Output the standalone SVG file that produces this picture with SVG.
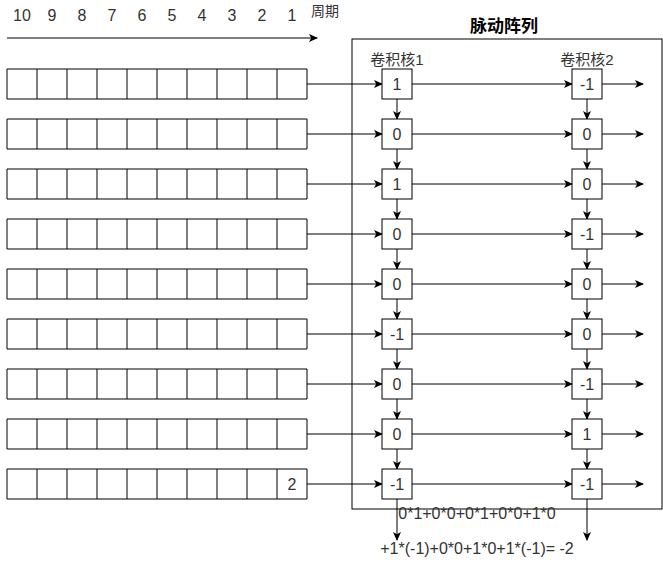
<svg xmlns="http://www.w3.org/2000/svg" width="663" height="581" viewBox="0 0 663 581">
<defs>
<marker id="ah" markerWidth="10" markerHeight="8" refX="8" refY="4" orient="auto" markerUnits="userSpaceOnUse">
<path d="M0,0 L9,4 L0,8 L2.2,4 Z" fill="#000"/>
</marker>
<style>
.cell{fill:#fff;stroke:#000;stroke-width:1}
.t{font-family:"Liberation Sans","Noto Sans CJK SC",sans-serif;fill:#333;text-anchor:middle}
.n{font-size:16px}
.tl{font-size:16px}
.e{stroke:#000;stroke-width:1;fill:none;marker-end:url(#ah)}
.ln{stroke:#000;stroke-width:1;fill:none}
</style>
</defs>
<rect width="663" height="581" fill="#fff"/>

<g id="timeline">
<text class="t tl" x="22" y="21">10</text>
<text class="t tl" x="52" y="21">9</text>
<text class="t tl" x="82" y="21">8</text>
<text class="t tl" x="112" y="21">7</text>
<text class="t tl" x="142" y="21">6</text>
<text class="t tl" x="172" y="21">5</text>
<text class="t tl" x="202" y="21">4</text>
<text class="t tl" x="232" y="21">3</text>
<text class="t tl" x="262" y="21">2</text>
<text class="t tl" x="292" y="21">1</text>
<text class="t" x="311" y="16" style="font-size:14px;text-anchor:start">周期</text>
<line class="e" x1="7" y1="38" x2="317" y2="38"/>
</g>

<g id="systolic-array">
<rect x="352" y="39" width="310" height="470" fill="#fff" stroke="#000"/>
<text class="t" x="504" y="32" style="font-size:17px;font-weight:bold;fill:#000">脉动阵列</text>
</g>

<g id="labels">
<text class="t" x="397" y="65" style="font-size:15px">卷积核1</text>
<text class="t" x="587" y="65" style="font-size:15px">卷积核2</text>
</g>

<g id="input-rows">
<g id="row1"><path class="cell" d="M7,69h300v30h-300z M37,69v30 M67,69v30 M97,69v30 M127,69v30 M157,69v30 M187,69v30 M217,69v30 M247,69v30 M277,69v30"/></g>
<g id="row2"><path class="cell" d="M7,119h300v30h-300z M37,119v30 M67,119v30 M97,119v30 M127,119v30 M157,119v30 M187,119v30 M217,119v30 M247,119v30 M277,119v30"/></g>
<g id="row3"><path class="cell" d="M7,169h300v30h-300z M37,169v30 M67,169v30 M97,169v30 M127,169v30 M157,169v30 M187,169v30 M217,169v30 M247,169v30 M277,169v30"/></g>
<g id="row4"><path class="cell" d="M7,219h300v30h-300z M37,219v30 M67,219v30 M97,219v30 M127,219v30 M157,219v30 M187,219v30 M217,219v30 M247,219v30 M277,219v30"/></g>
<g id="row5"><path class="cell" d="M7,269h300v30h-300z M37,269v30 M67,269v30 M97,269v30 M127,269v30 M157,269v30 M187,269v30 M217,269v30 M247,269v30 M277,269v30"/></g>
<g id="row6"><path class="cell" d="M7,319h300v30h-300z M37,319v30 M67,319v30 M97,319v30 M127,319v30 M157,319v30 M187,319v30 M217,319v30 M247,319v30 M277,319v30"/></g>
<g id="row7"><path class="cell" d="M7,369h300v30h-300z M37,369v30 M67,369v30 M97,369v30 M127,369v30 M157,369v30 M187,369v30 M217,369v30 M247,369v30 M277,369v30"/></g>
<g id="row8"><path class="cell" d="M7,419h300v30h-300z M37,419v30 M67,419v30 M97,419v30 M127,419v30 M157,419v30 M187,419v30 M217,419v30 M247,419v30 M277,419v30"/></g>
<g id="row9"><path class="cell" d="M7,469h300v30h-300z M37,469v30 M67,469v30 M97,469v30 M127,469v30 M157,469v30 M187,469v30 M217,469v30 M247,469v30 M277,469v30"/>
<text class="t n" x="292" y="490">2</text></g>
</g>

<g id="connectors">
<line class="e" x1="307" y1="84" x2="382" y2="84"/><line class="e" x1="412" y1="84" x2="572" y2="84"/><line class="e" x1="602" y1="84" x2="643" y2="84"/>
<line class="e" x1="307" y1="134" x2="382" y2="134"/><line class="e" x1="412" y1="134" x2="572" y2="134"/><line class="e" x1="602" y1="134" x2="643" y2="134"/>
<line class="e" x1="307" y1="184" x2="382" y2="184"/><line class="e" x1="412" y1="184" x2="572" y2="184"/><line class="e" x1="602" y1="184" x2="643" y2="184"/>
<line class="e" x1="307" y1="234" x2="382" y2="234"/><line class="e" x1="412" y1="234" x2="572" y2="234"/><line class="e" x1="602" y1="234" x2="643" y2="234"/>
<line class="e" x1="307" y1="284" x2="382" y2="284"/><line class="e" x1="412" y1="284" x2="572" y2="284"/><line class="e" x1="602" y1="284" x2="643" y2="284"/>
<line class="e" x1="307" y1="334" x2="382" y2="334"/><line class="e" x1="412" y1="334" x2="572" y2="334"/><line class="e" x1="602" y1="334" x2="643" y2="334"/>
<line class="e" x1="307" y1="384" x2="382" y2="384"/><line class="e" x1="412" y1="384" x2="572" y2="384"/><line class="e" x1="602" y1="384" x2="643" y2="384"/>
<line class="e" x1="307" y1="434" x2="382" y2="434"/><line class="e" x1="412" y1="434" x2="572" y2="434"/><line class="e" x1="602" y1="434" x2="643" y2="434"/>
<line class="e" x1="307" y1="484" x2="382" y2="484"/><line class="e" x1="412" y1="484" x2="572" y2="484"/><line class="e" x1="602" y1="484" x2="643" y2="484"/>
<line class="e" x1="397" y1="99" x2="397" y2="119"/><line class="e" x1="587" y1="99" x2="587" y2="119"/>
<line class="e" x1="397" y1="149" x2="397" y2="169"/><line class="e" x1="587" y1="149" x2="587" y2="169"/>
<line class="e" x1="397" y1="199" x2="397" y2="219"/><line class="e" x1="587" y1="199" x2="587" y2="219"/>
<line class="e" x1="397" y1="249" x2="397" y2="269"/><line class="e" x1="587" y1="249" x2="587" y2="269"/>
<line class="e" x1="397" y1="299" x2="397" y2="319"/><line class="e" x1="587" y1="299" x2="587" y2="319"/>
<line class="e" x1="397" y1="349" x2="397" y2="369"/><line class="e" x1="587" y1="349" x2="587" y2="369"/>
<line class="e" x1="397" y1="399" x2="397" y2="419"/><line class="e" x1="587" y1="399" x2="587" y2="419"/>
<line class="e" x1="397" y1="449" x2="397" y2="469"/><line class="e" x1="587" y1="449" x2="587" y2="469"/>
<line class="e" x1="397" y1="499" x2="397" y2="540"/><line class="e" x1="587" y1="499" x2="587" y2="540"/>
</g>

<g id="kernel1">
<g id="k1-1"><rect class="cell" x="382" y="69" width="30" height="30"/><text class="t n" x="397" y="90">1</text></g>
<g id="k1-2"><rect class="cell" x="382" y="119" width="30" height="30"/><text class="t n" x="397" y="140">0</text></g>
<g id="k1-3"><rect class="cell" x="382" y="169" width="30" height="30"/><text class="t n" x="397" y="190">1</text></g>
<g id="k1-4"><rect class="cell" x="382" y="219" width="30" height="30"/><text class="t n" x="397" y="240">0</text></g>
<g id="k1-5"><rect class="cell" x="382" y="269" width="30" height="30"/><text class="t n" x="397" y="290">0</text></g>
<g id="k1-6"><rect class="cell" x="382" y="319" width="30" height="30"/><text class="t n" x="397" y="340">-1</text></g>
<g id="k1-7"><rect class="cell" x="382" y="369" width="30" height="30"/><text class="t n" x="397" y="390">0</text></g>
<g id="k1-8"><rect class="cell" x="382" y="419" width="30" height="30"/><text class="t n" x="397" y="440">0</text></g>
<g id="k1-9"><rect class="cell" x="382" y="469" width="30" height="30"/><text class="t n" x="397" y="490">-1</text></g>
</g>

<g id="kernel2">
<g id="k2-1"><rect class="cell" x="572" y="69" width="30" height="30"/><text class="t n" x="587" y="90">-1</text></g>
<g id="k2-2"><rect class="cell" x="572" y="119" width="30" height="30"/><text class="t n" x="587" y="140">0</text></g>
<g id="k2-3"><rect class="cell" x="572" y="169" width="30" height="30"/><text class="t n" x="587" y="190">0</text></g>
<g id="k2-4"><rect class="cell" x="572" y="219" width="30" height="30"/><text class="t n" x="587" y="240">-1</text></g>
<g id="k2-5"><rect class="cell" x="572" y="269" width="30" height="30"/><text class="t n" x="587" y="290">0</text></g>
<g id="k2-6"><rect class="cell" x="572" y="319" width="30" height="30"/><text class="t n" x="587" y="340">0</text></g>
<g id="k2-7"><rect class="cell" x="572" y="369" width="30" height="30"/><text class="t n" x="587" y="390">-1</text></g>
<g id="k2-8"><rect class="cell" x="572" y="419" width="30" height="30"/><text class="t n" x="587" y="440">1</text></g>
<g id="k2-9"><rect class="cell" x="572" y="469" width="30" height="30"/><text class="t n" x="587" y="490">-1</text></g>
</g>

<g id="formula">
<text class="t n" x="477" y="519">0*1+0*0+0*1+0*0+1*0</text>
<text class="t n" x="477" y="554">+1*(-1)+0*0+1*0+1*(-1)= -2</text>
</g>
</svg>
